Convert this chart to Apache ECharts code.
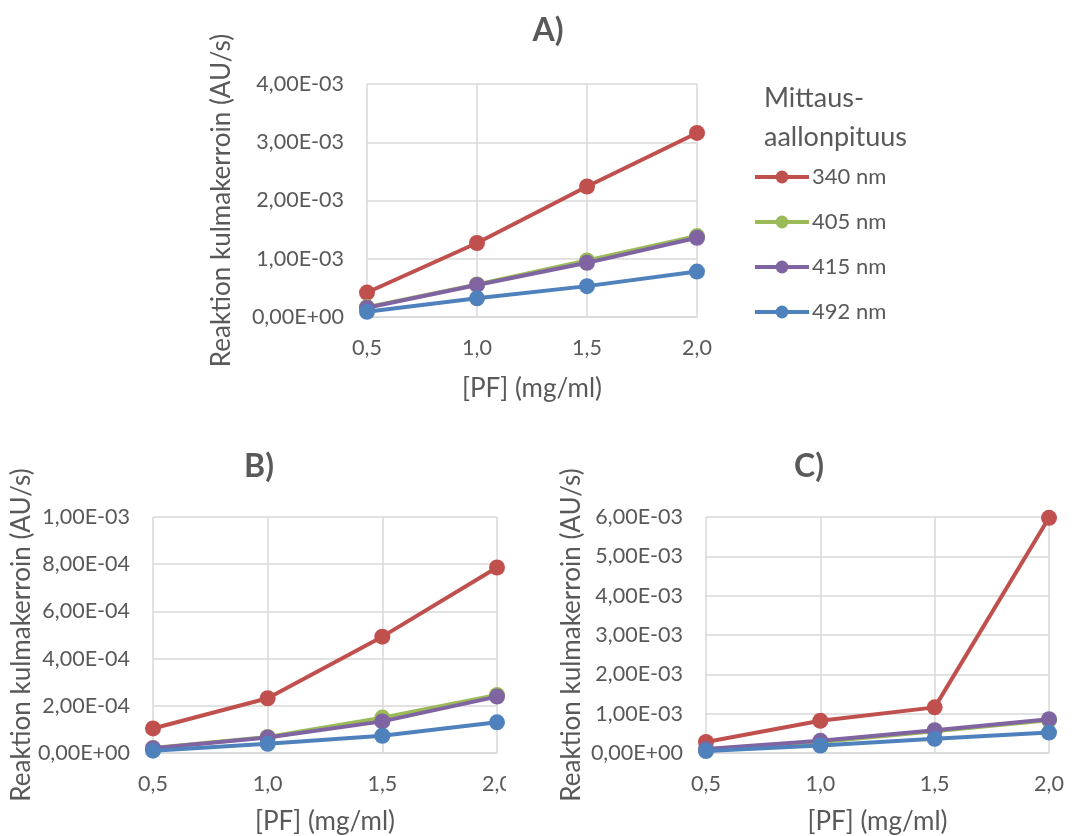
<!DOCTYPE html>
<html>
<head>
<meta charset="utf-8">
<script src="https://cdn.jsdelivr.net/npm/echarts@6/dist/echarts.min.js"></script>
<style>
  html, body { margin: 0; padding: 0; background: #ffffff; }
  #wrap { position: relative; width: 1088px; height: 836px; overflow: hidden; }
  .panel { position: absolute; overflow: hidden; }
  #chartA { left: 0; top: 0; width: 1088px; height: 420px; }
  #chartB { left: 0; top: 420px; width: 506px; height: 416px; }
  #chartC { left: 550px; top: 420px; width: 538px; height: 416px; }
</style>
</head>
<body>
<div id="wrap">
  <div id="chartA" class="panel"></div>
  <div id="chartB" class="panel"></div>
  <div id="chartC" class="panel"></div>
</div>
<script>
// Protein concentration categories (mg/ml)
const concentrations = ['0,5', '1,0', '1,5', '2,0'];
// Measurement wavelengths
const wavelengths = ['340 nm', '405 nm', '415 nm', '492 nm'];
const lineColors = ['#c0504d', '#9bbb59', '#8064a2', '#4f81bd'];

// Panel A: reaction slopes (AU/s)
const a340 = [4.2e-4, 1.27e-3, 2.24e-3, 3.16e-3];
const a405 = [1.7e-4, 5.6e-4, 9.7e-4, 1.39e-3];
const a415 = [1.6e-4, 5.5e-4, 9.3e-4, 1.36e-3];
const a492 = [9.0e-5, 3.2e-4, 5.3e-4, 7.8e-4];

// Panel B
const b340 = [1.04e-4, 2.32e-4, 4.93e-4, 7.86e-4];
const b405 = [2.1e-5, 6.8e-5, 1.50e-4, 2.46e-4];
const b415 = [2.0e-5, 6.6e-5, 1.34e-4, 2.39e-4];
const b492 = [1.0e-5, 3.9e-5, 7.3e-5, 1.30e-4];

// Panel C
const c340 = [2.8e-4, 8.2e-4, 1.16e-3, 5.98e-3];
const c405 = [9.0e-5, 2.8e-4, 5.5e-4, 8.3e-4];
const c415 = [1.0e-4, 3.1e-4, 5.8e-4, 8.6e-4];
const c492 = [5.0e-5, 1.9e-4, 3.6e-4, 5.2e-4];

const FONT = 'Lato';
const TEXT = '#595959';
const GRID_LINE = '#d9d9d9';
const TICK_SIZE = 21.5;
const NAME_SIZE = 26;

// "4,00E-03" style scientific labels with decimal comma
function sci(v) {
  const parts = Number(v).toExponential(2).split('e');
  const exp = parseInt(parts[1], 10);
  return parts[0].replace('.', ',') + 'E' + (exp < 0 ? '-' : '+') + String(Math.abs(exp)).padStart(2, '0');
}

function buildSeries(sets) {
  return sets.map((data, i) => ({
    name: wavelengths[i],
    type: 'line',
    data: data,
    symbol: 'circle',
    symbolSize: 16,
    lineStyle: { width: 4, color: lineColors[i] },
    itemStyle: { color: lineColors[i] },
    emphasis: { disabled: true },
    animation: false,
    z: 2 + i
  }));
}

function panelOption(cfg) {
  return {
    animation: false,
    textStyle: { fontFamily: FONT },
    title: [{
      text: cfg.title,
      left: cfg.titleX,
      top: cfg.titleY,
      textAlign: 'center',
      textStyle: { fontFamily: FONT, fontSize: 32, fontWeight: 'bold', color: TEXT }
    }],
    grid: Object.assign({ containLabel: false, outerBoundsMode: 'none' }, cfg.grid),
    xAxis: {
      type: 'category',
      data: concentrations,
      boundaryGap: false,
      name: '[PF] (mg/ml)',
      nameLocation: 'middle',
      nameGap: cfg.xNameGap,
      nameMoveOverlap: false,
      nameTextStyle: { fontFamily: FONT, fontSize: NAME_SIZE, color: TEXT },
      axisLine: { show: true, lineStyle: { color: GRID_LINE, width: 1.5 } },
      axisTick: { show: false },
      axisLabel: { margin: 20, fontFamily: FONT, fontSize: TICK_SIZE, color: TEXT, interval: 0 },
      splitLine: { show: true, interval: 0, lineStyle: { color: GRID_LINE, width: 1.5 } }
    },
    yAxis: {
      type: 'value',
      min: 0,
      max: cfg.yMax,
      interval: cfg.yStep,
      name: 'Reaktion kulmakerroin (AU/s)',
      nameLocation: 'middle',
      nameGap: cfg.yNameGap,
      nameMoveOverlap: false,
      nameTextStyle: { fontFamily: FONT, fontSize: NAME_SIZE, color: TEXT },
      axisLine: { show: false },
      axisTick: { show: false },
      axisLabel: { margin: 23, fontFamily: FONT, fontSize: TICK_SIZE, color: TEXT, formatter: sci },
      splitLine: { show: true, lineStyle: { color: GRID_LINE, width: 1.5 } }
    },
    series: buildSeries(cfg.sets)
  };
}

// Panel A with legend
const chartA = echarts.init(document.getElementById('chartA'), null, { renderer: 'canvas' });
const optA = panelOption({
  title: 'A)', titleX: 543, titleY: 10,
  grid: { left: 367, top: 84, width: 330, height: 233 },
  xNameGap: 59, yNameGap: 132,
  yMax: 4e-3, yStep: 1e-3,
  sets: [a340, a405, a415, a492]
});
optA.title.push({
  text: 'Mittaus-\naallonpituus',
  left: 764, top: 79,
  padding: 0,
  textStyle: { fontFamily: FONT, fontSize: 27, fontWeight: 'normal', color: TEXT, lineHeight: 39 }
});
optA.legend = {
  orient: 'vertical',
  left: 753,
  top: 166,
  padding: 0,
  itemWidth: 54,
  itemHeight: 16,
  itemGap: 23,
  data: wavelengths,
  selectedMode: false,
  lineStyle: { width: 4 },
  textStyle: { fontFamily: FONT, fontSize: 22, color: TEXT, padding: [0, 0, 0, -2] }
};
chartA.setOption(optA);

// Panel B
const chartB = echarts.init(document.getElementById('chartB'), null, { renderer: 'canvas' });
chartB.setOption(panelOption({
  title: 'B)', titleX: 254, titleY: 26,
  grid: { left: 153, top: 97, width: 344, height: 236 },
  xNameGap: 56, yNameGap: 118,
  yMax: 1e-3, yStep: 2e-4,
  sets: [b340, b405, b415, b492]
}));

// Panel C
const chartC = echarts.init(document.getElementById('chartC'), null, { renderer: 'canvas' });
chartC.setOption(panelOption({
  title: 'C)', titleX: 254, titleY: 26,
  grid: { left: 156, top: 97, width: 343, height: 236 },
  xNameGap: 56, yNameGap: 121,
  yMax: 6e-3, yStep: 1e-3,
  sets: [c340, c405, c415, c492]
}));
</script>
</body>
</html>
